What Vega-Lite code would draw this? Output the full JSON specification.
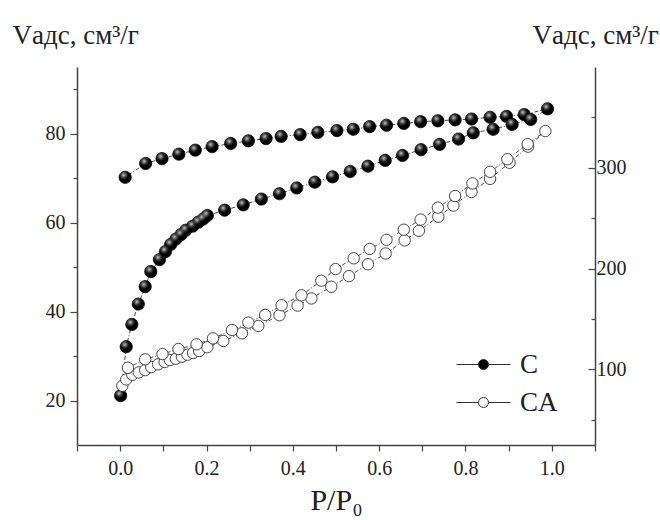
{
  "$schema": "https://vega.github.io/schema/vega-lite/v6.json",
  "width": 518,
  "height": 378,
  "autosize": "none",
  "padding": {"left": 77, "top": 67, "right": 65, "bottom": 75},
  "background": "white",
  "config": {
    "view": {"stroke": null},
    "font": "Liberation Serif",
    "axis": {
      "grid": false,
      "domainColor": "#444",
      "domainWidth": 1.5,
      "tickColor": "#444",
      "tickWidth": 1.2,
      "labelColor": "#222",
      "titleColor": "#222",
      "labelFont": "Liberation Serif",
      "titleFont": "Liberation Serif",
      "labelFontSize": 20,
      "titleFontSize": 27,
      "titleFontWeight": "normal"
    },
    "legend": {
      "labelFont": "Liberation Serif",
      "labelFontSize": 27,
      "labelColor": "#222"
    }
  },
  "datasets": {
    "c": [
      {"s": "C", "i": 0, "p": 0.001, "v": 21.1},
      {"s": "C", "i": 1, "p": 0.014, "v": 32.1},
      {"s": "C", "i": 2, "p": 0.027, "v": 37.1},
      {"s": "C", "i": 3, "p": 0.042, "v": 41.7},
      {"s": "C", "i": 4, "p": 0.058, "v": 45.6},
      {"s": "C", "i": 5, "p": 0.071, "v": 49.0},
      {"s": "C", "i": 6, "p": 0.091, "v": 51.7},
      {"s": "C", "i": 7, "p": 0.105, "v": 53.5},
      {"s": "C", "i": 8, "p": 0.117, "v": 55.1},
      {"s": "C", "i": 9, "p": 0.129, "v": 56.3},
      {"s": "C", "i": 10, "p": 0.141, "v": 57.3},
      {"s": "C", "i": 11, "p": 0.152, "v": 58.3},
      {"s": "C", "i": 12, "p": 0.168, "v": 59.2},
      {"s": "C", "i": 13, "p": 0.181, "v": 60.1},
      {"s": "C", "i": 14, "p": 0.192, "v": 60.8},
      {"s": "C", "i": 15, "p": 0.202, "v": 61.6},
      {"s": "C", "i": 16, "p": 0.242, "v": 62.8},
      {"s": "C", "i": 17, "p": 0.285, "v": 64.0},
      {"s": "C", "i": 18, "p": 0.327, "v": 65.3},
      {"s": "C", "i": 19, "p": 0.369, "v": 66.5},
      {"s": "C", "i": 20, "p": 0.409, "v": 67.8},
      {"s": "C", "i": 21, "p": 0.451, "v": 69.1},
      {"s": "C", "i": 22, "p": 0.492, "v": 70.3},
      {"s": "C", "i": 23, "p": 0.533, "v": 71.5},
      {"s": "C", "i": 24, "p": 0.574, "v": 72.7},
      {"s": "C", "i": 25, "p": 0.614, "v": 74.0},
      {"s": "C", "i": 26, "p": 0.654, "v": 75.1},
      {"s": "C", "i": 27, "p": 0.697, "v": 76.4},
      {"s": "C", "i": 28, "p": 0.740, "v": 77.6},
      {"s": "C", "i": 29, "p": 0.784, "v": 78.8},
      {"s": "C", "i": 30, "p": 0.818, "v": 80.2},
      {"s": "C", "i": 31, "p": 0.864, "v": 81.0},
      {"s": "C", "i": 32, "p": 0.908, "v": 82.1},
      {"s": "C", "i": 33, "p": 0.951, "v": 83.2},
      {"s": "C", "i": 34, "p": 0.990, "v": 85.6},
      {"s": "C", "i": 35, "p": 0.936, "v": 84.3},
      {"s": "C", "i": 36, "p": 0.895, "v": 83.9},
      {"s": "C", "i": 37, "p": 0.857, "v": 83.7},
      {"s": "C", "i": 38, "p": 0.814, "v": 83.3},
      {"s": "C", "i": 39, "p": 0.776, "v": 83.1},
      {"s": "C", "i": 40, "p": 0.736, "v": 82.9},
      {"s": "C", "i": 41, "p": 0.696, "v": 82.7},
      {"s": "C", "i": 42, "p": 0.657, "v": 82.3},
      {"s": "C", "i": 43, "p": 0.617, "v": 81.9},
      {"s": "C", "i": 44, "p": 0.578, "v": 81.6},
      {"s": "C", "i": 45, "p": 0.540, "v": 81.0},
      {"s": "C", "i": 46, "p": 0.502, "v": 80.7},
      {"s": "C", "i": 47, "p": 0.458, "v": 80.3},
      {"s": "C", "i": 48, "p": 0.417, "v": 79.8},
      {"s": "C", "i": 49, "p": 0.373, "v": 79.4},
      {"s": "C", "i": 50, "p": 0.338, "v": 78.9},
      {"s": "C", "i": 51, "p": 0.297, "v": 78.4},
      {"s": "C", "i": 52, "p": 0.256, "v": 77.8},
      {"s": "C", "i": 53, "p": 0.213, "v": 77.1},
      {"s": "C", "i": 54, "p": 0.174, "v": 76.3},
      {"s": "C", "i": 55, "p": 0.136, "v": 75.4},
      {"s": "C", "i": 56, "p": 0.097, "v": 74.4},
      {"s": "C", "i": 57, "p": 0.059, "v": 73.3},
      {"s": "C", "i": 58, "p": 0.0115, "v": 70.2}
    ],
    "ca": [
      {"s": "CA", "i": 0, "p": 0.005, "v": 83.7},
      {"s": "CA", "i": 1, "p": 0.014, "v": 90.0},
      {"s": "CA", "i": 2, "p": 0.028, "v": 94.6},
      {"s": "CA", "i": 3, "p": 0.043, "v": 97.0},
      {"s": "CA", "i": 4, "p": 0.058, "v": 99.3},
      {"s": "CA", "i": 5, "p": 0.072, "v": 102.3},
      {"s": "CA", "i": 6, "p": 0.088, "v": 105.0},
      {"s": "CA", "i": 7, "p": 0.103, "v": 107.3},
      {"s": "CA", "i": 8, "p": 0.115, "v": 109.3},
      {"s": "CA", "i": 9, "p": 0.129, "v": 110.6},
      {"s": "CA", "i": 10, "p": 0.143, "v": 112.6},
      {"s": "CA", "i": 11, "p": 0.156, "v": 114.6},
      {"s": "CA", "i": 12, "p": 0.169, "v": 116.3},
      {"s": "CA", "i": 13, "p": 0.183, "v": 118.3},
      {"s": "CA", "i": 14, "p": 0.202, "v": 122.0},
      {"s": "CA", "i": 15, "p": 0.239, "v": 128.2},
      {"s": "CA", "i": 16, "p": 0.282, "v": 135.8},
      {"s": "CA", "i": 17, "p": 0.320, "v": 143.1},
      {"s": "CA", "i": 18, "p": 0.369, "v": 153.7},
      {"s": "CA", "i": 19, "p": 0.411, "v": 163.3},
      {"s": "CA", "i": 20, "p": 0.443, "v": 170.4},
      {"s": "CA", "i": 21, "p": 0.489, "v": 182.0},
      {"s": "CA", "i": 22, "p": 0.530, "v": 192.5},
      {"s": "CA", "i": 23, "p": 0.574, "v": 204.3},
      {"s": "CA", "i": 24, "p": 0.615, "v": 215.0},
      {"s": "CA", "i": 25, "p": 0.659, "v": 228.0},
      {"s": "CA", "i": 26, "p": 0.692, "v": 237.5},
      {"s": "CA", "i": 27, "p": 0.737, "v": 251.5},
      {"s": "CA", "i": 28, "p": 0.772, "v": 262.5},
      {"s": "CA", "i": 29, "p": 0.814, "v": 276.0},
      {"s": "CA", "i": 30, "p": 0.857, "v": 289.0},
      {"s": "CA", "i": 31, "p": 0.902, "v": 305.0},
      {"s": "CA", "i": 32, "p": 0.945, "v": 321.0},
      {"s": "CA", "i": 33, "p": 0.985, "v": 336.4},
      {"s": "CA", "i": 34, "p": 0.944, "v": 323.5},
      {"s": "CA", "i": 35, "p": 0.897, "v": 308.5},
      {"s": "CA", "i": 36, "p": 0.857, "v": 296.0},
      {"s": "CA", "i": 37, "p": 0.816, "v": 284.5},
      {"s": "CA", "i": 38, "p": 0.776, "v": 272.0},
      {"s": "CA", "i": 39, "p": 0.736, "v": 260.5},
      {"s": "CA", "i": 40, "p": 0.696, "v": 248.6},
      {"s": "CA", "i": 41, "p": 0.657, "v": 238.6},
      {"s": "CA", "i": 42, "p": 0.617, "v": 228.5},
      {"s": "CA", "i": 43, "p": 0.578, "v": 219.5},
      {"s": "CA", "i": 44, "p": 0.541, "v": 210.2},
      {"s": "CA", "i": 45, "p": 0.499, "v": 199.5},
      {"s": "CA", "i": 46, "p": 0.466, "v": 188.0},
      {"s": "CA", "i": 47, "p": 0.420, "v": 173.5},
      {"s": "CA", "i": 48, "p": 0.374, "v": 163.7},
      {"s": "CA", "i": 49, "p": 0.336, "v": 154.0},
      {"s": "CA", "i": 50, "p": 0.297, "v": 146.4},
      {"s": "CA", "i": 51, "p": 0.259, "v": 139.1},
      {"s": "CA", "i": 52, "p": 0.215, "v": 130.8},
      {"s": "CA", "i": 53, "p": 0.177, "v": 124.9},
      {"s": "CA", "i": 54, "p": 0.135, "v": 120.2},
      {"s": "CA", "i": 55, "p": 0.098, "v": 115.2},
      {"s": "CA", "i": 56, "p": 0.058, "v": 110.0},
      {"s": "CA", "i": 57, "p": 0.018, "v": 101.6}
    ]
  },
  "encoding": {
    "x": {
      "field": "p",
      "type": "quantitative",
      "scale": {"domain": [-0.1, 1.1], "nice": false, "zero": false},
      "axis": {
        "values": [-0.1, 0, 0.1, 0.2, 0.3, 0.4, 0.5, 0.6, 0.7, 0.8, 0.9, 1.0, 1.1],
        "format": ".1f",
        "labelExpr": "(abs(round(datum.value*10))%2==0 && datum.value>-0.05 && datum.value<1.05) ? datum.label : ''",
        "tickSize": 6,
        "labelPadding": 7,
        "title": "P/P₀",
        "titleFontSize": 30,
        "titleY": 64,
        "titleBaseline": "alphabetic"
      }
    }
  },
  "layer": [
    {
      "data": {"name": "c"},
      "encoding": {
        "y": {
          "field": "v",
          "type": "quantitative",
          "scale": {"domain": [10, 95], "nice": false, "zero": false},
          "axis": {
            "orient": "left",
            "values": [20, 30, 40, 50, 60, 70, 80, 90],
            "labelExpr": "datum.value % 20 == 0 ? datum.label : ''",
            "tickSize": {"condition": {"test": "datum.value % 20 == 0", "value": 7}, "value": 4},
            "labelPadding": 5,
            "title": "Vадс, см³/г",
            "titleAngle": 0,
            "titleAlign": "left",
            "titleBaseline": "alphabetic",
            "titleX": -65,
            "titleY": -24
          }
        }
      },
      "layer": [
        {
          "mark": {"type": "line", "color": "#333", "strokeWidth": 0.9, "strokeDash": [4, 2, 1, 2]},
          "encoding": {"order": {"field": "i", "type": "quantitative"}}
        },
        {
          "mark": {"type": "point", "filled": true, "size": 150, "stroke": "#000", "strokeWidth": 0.8, "opacity": 1},
          "encoding": {
            "fill": {
              "field": "s",
              "type": "nominal",
              "scale": {"domain": ["C", "CA"], "range": ["#000000", "#ffffff"]},
              "legend": {
                "title": null,
                "orient": "none",
                "legendX": 393,
                "legendY": 284,
                "padding": 0,
                "symbolType": "M-2.7,0L-0.5,0M0.5,0L2.7,0M-0.5,0A0.5,0.5,0,1,0,0.5,0A0.5,0.5,0,1,0,-0.5,0Z",
                "symbolSize": 400,
                "symbolStrokeColor": "#333",
                "symbolStrokeWidth": 1,
                "symbolOpacity": 1,
                "labelOffset": 23,
                "rowPadding": 10
              }
            }
          }
        },
        {
          "mark": {
            "type": "point",
            "size": 150,
            "strokeOpacity": 0,
            "fill": {
              "gradient": "radial",
              "x1": 0.38, "y1": 0.32, "r1": 0,
              "x2": 0.38, "y2": 0.32, "r2": 0.42,
              "stops": [
                {"offset": 0, "color": "rgba(235,235,235,0.9)"},
                {"offset": 1, "color": "rgba(80,80,80,0)"}
              ]
            },
            "fillOpacity": 1
          }
        }
      ]
    },
    {
      "data": {"name": "ca"},
      "encoding": {
        "y": {
          "field": "v",
          "type": "quantitative",
          "scale": {"domain": [25, 400], "nice": false, "zero": false},
          "axis": {
            "orient": "right",
            "values": [50, 100, 150, 200, 250, 300, 350],
            "labelExpr": "datum.value % 100 == 0 ? datum.label : ''",
            "tickSize": {"condition": {"test": "datum.value % 100 == 0", "value": -7}, "value": -4},
            "labelPadding": 8,
            "title": "Vадс, см³/г",
            "titleAngle": 0,
            "titleAlign": "left",
            "titleBaseline": "alphabetic",
            "titleX": -63,
            "titleY": -24
          }
        }
      },
      "layer": [
        {
          "mark": {"type": "line", "color": "#333", "strokeWidth": 0.9, "strokeDash": [4, 2, 1, 2]},
          "encoding": {"order": {"field": "i", "type": "quantitative"}}
        },
        {
          "mark": {"type": "point", "filled": true, "size": 130, "stroke": "#333", "strokeWidth": 0.9, "opacity": 1},
          "encoding": {
            "fill": {"field": "s", "type": "nominal"}
          }
        }
      ]
    }
  ],
  "resolve": {"scale": {"y": "independent"}, "axis": {"y": "independent"}}
}
